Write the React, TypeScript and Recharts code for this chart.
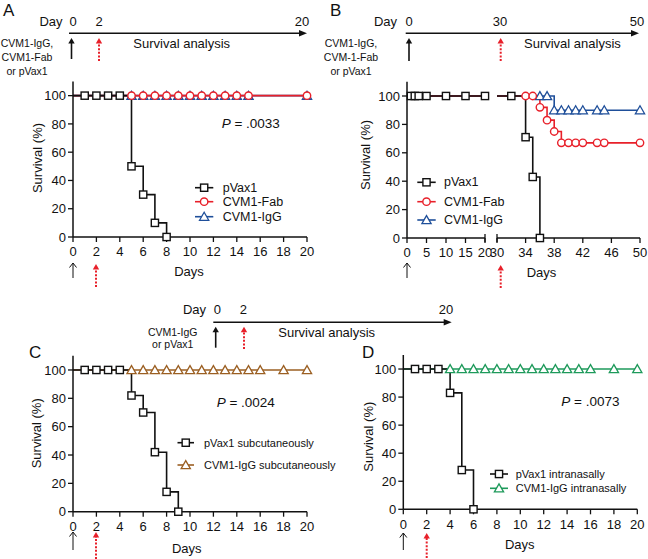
import React from 'react';
import { LineChart, Line, XAxis, YAxis } from 'recharts';

const FONT = '"Liberation Sans", Arial, Helvetica, sans-serif';
const BLACK = '#111111';
const RED = '#e8202a';
const BLUE = '#1f4f9a';
const BROWN = '#9b5f22';
const GREEN = '#1e9a5b';

// ---------- data ----------
const yTicks = [0, 20, 40, 60, 80, 100];
const dayTicks20 = [0, 2, 4, 6, 8, 10, 12, 14, 16, 18, 20];

// Panel A
const aPvaxDays = [0, 1, 2, 3, 4, 5, 6, 7, 8];
const aPvaxSurv = [100, 100, 100, 100, 100, 50, 30, 10, 0];
const aPvaxMarks = [1, 2, 3, 4, 5, 6, 7, 8];
const aFabDays = [0, 5, 6, 7, 8, 9, 10, 11, 12, 13, 14, 15, 20];
const aFabSurv = [100, 100, 100, 100, 100, 100, 100, 100, 100, 100, 100, 100, 100];
const aFabMarks = [5, 6, 7, 8, 9, 10, 11, 12, 13, 14, 15, 20];
const aIgGDays = [0, 5, 6, 7, 8, 9, 10, 11, 12, 13, 14, 15, 20];
const aIgGSurv = [100, 100, 100, 100, 100, 100, 100, 100, 100, 100, 100, 100, 100];
const aIgGMarks = [5, 6, 7, 8, 9, 10, 11, 12, 13, 14, 15, 20];

// Panel B (broken axis 0-20 | 30-50)
const bLeftTicks = [0, 5, 10, 15, 20];
const bRightTicks = [30, 34, 38, 42, 46, 50];
const bPvaxDays = [0, 1, 2, 3, 5, 10, 15, 20, 30, 32, 34, 35, 36];
const bPvaxSurv = [100, 100, 100, 100, 100, 100, 100, 100, 100, 100, 71, 43, 0];
const bPvaxMarks = [1, 2, 3, 5, 10, 15, 20, 32, 34, 35, 36];
const bFabDays = [0, 20, 30, 34, 35, 36, 37, 38, 39, 40, 41, 42, 44, 45, 50];
const bFabSurv = [100, 100, 100, 100, 100, 92, 83, 75, 67, 67, 67, 67, 67, 67, 67];
const bFabMarks = [34, 35, 36, 37, 38, 39, 40, 41, 42, 44, 45, 50];
const bIgGDays = [0, 20, 30, 36, 37, 38, 39, 40, 41, 42, 44, 45, 50];
const bIgGSurv = [100, 100, 100, 100, 100, 90, 90, 90, 90, 90, 90, 90, 90];
const bIgGMarks = [36, 37, 38, 39, 40, 41, 42, 44, 45, 50];

// Panel C
const cPvaxDays = [0, 1, 2, 3, 4, 5, 6, 7, 8, 9];
const cPvaxSurv = [100, 100, 100, 100, 100, 82, 70, 42, 14, 0];
const cPvaxMarks = [1, 2, 3, 4, 5, 6, 7, 8, 9];
const cIgGDays = [0, 5, 6, 7, 8, 9, 10, 11, 12, 13, 14, 15, 16, 18, 20];
const cIgGSurv = [100, 100, 100, 100, 100, 100, 100, 100, 100, 100, 100, 100, 100, 100, 100];
const cIgGMarks = [5, 6, 7, 8, 9, 10, 11, 12, 13, 14, 15, 16, 18, 20];

// Panel D
const dPvaxDays = [0, 1, 2, 3, 4, 5, 6];
const dPvaxSurv = [100, 100, 100, 100, 83, 28, 0];
const dPvaxMarks = [1, 2, 3, 4, 5, 6];
const dIgGDays = [0, 4, 5, 6, 7, 8, 9, 10, 11, 12, 13, 14, 15, 16, 18, 20];
const dIgGSurv = [100, 100, 100, 100, 100, 100, 100, 100, 100, 100, 100, 100, 100, 100, 100, 100];
const dIgGMarks = [4, 5, 6, 7, 8, 9, 10, 11, 12, 13, 14, 15, 16, 18, 20];

// ---------- helpers ----------
type Shape = 'square' | 'circle' | 'triangle';
type Series = { days: number[]; surv: number[]; marks: number[]; color: string; shape: Shape };

const toPoints = (days: number[], surv: number[], lo: number, hi: number) =>
  days.map((d, i) => ({ day: d, surv: surv[i] })).filter((p) => p.day >= lo && p.day <= hi);

function Marker({ shape, cx, cy, color }: { shape: Shape; cx: number; cy: number; color: string }) {
  if (shape === 'square')
    return <rect x={cx - 3.6} y={cy - 3.6} width={7.2} height={7.2} fill="#fff" stroke={color} strokeWidth={1.4} />;
  if (shape === 'circle') return <circle cx={cx} cy={cy} r={3.7} fill="#fff" stroke={color} strokeWidth={1.4} />;
  return (
    <polygon
      points={`${cx},${cy - 4.4} ${cx - 4.6},${cy + 3.6} ${cx + 4.6},${cy + 3.6}`}
      fill="#fff"
      stroke={color}
      strokeWidth={1.3}
      strokeLinejoin="miter"
    />
  );
}

const axisStyle = { stroke: BLACK, strokeWidth: 1.5 };
const tickLineStyle = { stroke: BLACK, strokeWidth: 1.3 };
const tickStyle = { fill: BLACK, fontSize: 13, fontFamily: FONT };

function Plot(props: {
  left: number;
  top: number;
  width: number;
  height: number;
  margin: { top: number; right: number; bottom: number; left: number };
  xDomain: [number, number];
  xTicks: number[];
  series: Series[];
  showY: boolean;
}) {
  const { left, top, width, height, margin, xDomain, xTicks, series, showY } = props;
  return (
    <div style={{ position: 'absolute', left, top, width, height }}>
      <LineChart width={width} height={height} margin={margin}>
        <XAxis
          type="number"
          dataKey="day"
          domain={xDomain}
          ticks={xTicks}
          interval={0}
          height={30}
          tickSize={5}
          tickMargin={5}
          axisLine={axisStyle}
          tickLine={tickLineStyle}
          tick={tickStyle}
        />
        <YAxis
          type="number"
          dataKey="surv"
          domain={[0, 110]}
          ticks={yTicks}
          interval={0}
          width={showY ? 40 : 0}
          hide={!showY}
          tickSize={5}
          tickMargin={2}
          axisLine={axisStyle}
          tickLine={tickLineStyle}
          tick={tickStyle}
        />
        {series.map((s, si) => (
          <Line
            key={si}
            data={toPoints(s.days, s.surv, xDomain[0], xDomain[1])}
            dataKey="surv"
            type="stepAfter"
            stroke={s.color}
            strokeWidth={1.6}
            activeDot={false}
            isAnimationActive={false}
            dot={(p: any) => {
              const k = `d-${si}-${p.index}`;
              if (!p.payload || s.marks.indexOf(p.payload.day) < 0 || p.cx == null) return <g key={k} />;
              return (
                <g key={k}>
                  <Marker shape={s.shape} cx={p.cx} cy={p.cy} color={s.color} />
                </g>
              );
            }}
          />
        ))}
      </LineChart>
    </div>
  );
}

function T(props: any) {
  return <text fontFamily={FONT} fill={BLACK} fontSize={13} {...props} />;
}

function UpArrow({ x, y1, y2, color, dotted, open }: { x: number; y1: number; y2: number; color: string; dotted?: boolean; open?: boolean }) {
  if (open)
    return (
      <g>
        <line x1={x} y1={y1} x2={x} y2={y2} stroke={color} strokeWidth={1} />
        <polyline points={`${x - 3.5},${y2 + 4.5} ${x},${y2} ${x + 3.5},${y2 + 4.5}`} fill="none" stroke={color} strokeWidth={1} />
      </g>
    );
  const head = 5;
  return (
    <g>
      <line
        x1={x}
        y1={y1}
        x2={x}
        y2={y2 + head}
        stroke={color}
        strokeWidth={dotted ? 2 : 1.6}
        strokeDasharray={dotted ? '2 1.6' : undefined}
      />
      <polygon points={`${x - 3.2},${y2 + head + 0.5} ${x},${y2} ${x + 3.2},${y2 + head + 0.5}`} fill={color} />
    </g>
  );
}

function TimeLine({ x1, x2, y }: { x1: number; x2: number; y: number }) {
  return (
    <g>
      <line x1={x1} y1={y} x2={x2 - 6} y2={y} stroke={BLACK} strokeWidth={1.6} />
      <polygon points={`${x2 - 8},${y - 3.2} ${x2},${y} ${x2 - 8},${y + 3.2}`} fill={BLACK} />
    </g>
  );
}

function LegendRow({ x1, x2, y, color, shape, textX, label, fs }: any) {
  return (
    <g>
      <line x1={x1} y1={y} x2={x2} y2={y} stroke={color} strokeWidth={1.6} />
      <Marker shape={shape} cx={(x1 + x2) / 2} cy={y} color={color} />
      <T x={textX} y={y} fontSize={fs} dominantBaseline="central">
        {label}
      </T>
    </g>
  );
}

function YTitle({ x, y }: { x: number; y: number }) {
  return (
    <T x={x} y={y} textAnchor="middle" dominantBaseline="central" transform={`rotate(-90 ${x} ${y})`}>
      Survival (%)
    </T>
  );
}

function PText({ x, y, v }: { x: number; y: number; v: string }) {
  return (
    <T x={x} y={y} fontSize={13.5}>
      <tspan fontStyle="italic">P</tspan>
      {` = ${v}`}
    </T>
  );
}

export default function App() {
  const aSeries: Series[] = [
    { days: aIgGDays, surv: aIgGSurv, marks: aIgGMarks, color: BLUE, shape: 'triangle' },
    { days: aFabDays, surv: aFabSurv, marks: aFabMarks, color: RED, shape: 'circle' },
    { days: aPvaxDays, surv: aPvaxSurv, marks: aPvaxMarks, color: BLACK, shape: 'square' },
  ];
  const bSeries: Series[] = [
    { days: bIgGDays, surv: bIgGSurv, marks: bIgGMarks, color: BLUE, shape: 'triangle' },
    { days: bFabDays, surv: bFabSurv, marks: bFabMarks, color: RED, shape: 'circle' },
    { days: bPvaxDays, surv: bPvaxSurv, marks: bPvaxMarks, color: BLACK, shape: 'square' },
  ];
  const cSeries: Series[] = [
    { days: cIgGDays, surv: cIgGSurv, marks: cIgGMarks, color: BROWN, shape: 'triangle' },
    { days: cPvaxDays, surv: cPvaxSurv, marks: cPvaxMarks, color: BLACK, shape: 'square' },
  ];
  const dSeries: Series[] = [
    { days: dIgGDays, surv: dIgGSurv, marks: dIgGMarks, color: GREEN, shape: 'triangle' },
    { days: dPvaxDays, surv: dPvaxSurv, marks: dPvaxMarks, color: BLACK, shape: 'square' },
  ];

  return (
    <div style={{ position: 'absolute', left: 0, top: 0, width: 648, height: 559, background: '#fff', overflow: 'hidden' }}>
      <Plot left={0} top={60} width={330} height={230} margin={{ top: 21.5, right: 23, bottom: 23, left: 33 }} xDomain={[0, 20]} xTicks={dayTicks20} series={aSeries} showY />
      <Plot left={330} top={60} width={170} height={230} margin={{ top: 21.8, right: 15, bottom: 22, left: 37 }} xDomain={[0, 20]} xTicks={bLeftTicks} series={bSeries} showY />
      <Plot left={490} top={60} width={158} height={230} margin={{ top: 21.8, right: 8, bottom: 22, left: 7 }} xDomain={[30, 50]} xTicks={bRightTicks} series={bSeries} showY={false} />
      <Plot left={0} top={335} width={330} height={230} margin={{ top: 20.8, right: 23, bottom: 23.3, left: 33 }} xDomain={[0, 20]} xTicks={dayTicks20} series={cSeries} showY />
      <Plot left={324} top={335} width={324} height={230} margin={{ top: 20, right: 10.7, bottom: 25.7, left: 39.3 }} xDomain={[0, 20]} xTicks={dayTicks20} series={dSeries} showY />

      <svg width={648} height={559} style={{ position: 'absolute', left: 0, top: 0, pointerEvents: 'none' }}>
        {/* ----- Panel A ----- */}
        <T x={3} y={16} fontSize={17}>A</T>
        <T x={62.5} y={26} textAnchor="end">Day</T>
        <T x={73} y={26} textAnchor="middle">0</T>
        <T x={99} y={26} textAnchor="middle">2</T>
        <T x={302} y={26} textAnchor="middle">20</T>
        <TimeLine x1={69} x2={307} y={33.3} />
        <T x={27} y={47} fontSize={10.5} textAnchor="middle">CVM1-IgG,</T>
        <T x={27} y={61} fontSize={10.5} textAnchor="middle">CVM1-Fab</T>
        <T x={27} y={74.5} fontSize={10.5} textAnchor="middle">or pVax1</T>
        <UpArrow x={71.5} y1={59} y2={38} color={BLACK} />
        <UpArrow x={99} y1={61} y2={38} color={RED} dotted />
        <T x={133.3} y={47.5}>Survival analysis</T>
        <YTitle x={37} y={158} />
        <T x={189} y={276} textAnchor="middle">Days</T>
        <UpArrow x={73} y1={278} y2={263} color={BLACK} open />
        <UpArrow x={96} y1={287} y2={264} color={RED} dotted />
        <PText x={221.7} y={127.5} v=".0033" />
        <LegendRow x1={195} x2={213.3} y={187.7} color={BLACK} shape="square" textX={222.7} label="pVax1" fs={12.5} />
        <LegendRow x1={195} x2={213.3} y={201.7} color={RED} shape="circle" textX={222.7} label="CVM1-Fab" fs={12.5} />
        <LegendRow x1={195} x2={213.3} y={216.7} color={BLUE} shape="triangle" textX={222.7} label="CVM1-IgG" fs={12.5} />

        {/* ----- Panel B ----- */}
        <T x={330} y={16} fontSize={17}>B</T>
        <T x={397} y={26} textAnchor="end">Day</T>
        <T x={409} y={26} textAnchor="middle">0</T>
        <T x={500} y={26} textAnchor="middle">30</T>
        <T x={637} y={26} textAnchor="middle">50</T>
        <TimeLine x1={405.7} x2={639} y={33.3} />
        <T x={351} y={47} fontSize={10.5} textAnchor="middle">CVM1-IgG,</T>
        <T x={351} y={61} fontSize={10.5} textAnchor="middle">CVM-1-Fab</T>
        <T x={351} y={74.5} fontSize={10.5} textAnchor="middle">or pVax1</T>
        <UpArrow x={409} y1={61} y2={38} color={BLACK} />
        <UpArrow x={500.7} y1={61} y2={38} color={RED} dotted />
        <T x={524} y={47.5}>Survival analysis</T>
        <YTitle x={365.7} y={155} />
        <T x={541.5} y={276.5} textAnchor="middle">Days</T>
        <UpArrow x={407} y1={278} y2={263} color={BLACK} open />
        <UpArrow x={500.7} y1={288} y2={265} color={RED} dotted />
        <line x1={485} y1={234} x2={485} y2={242} stroke={BLACK} strokeWidth={1.3} />
        <line x1={497} y1={234} x2={497} y2={242} stroke={BLACK} strokeWidth={1.3} />
        <LegendRow x1={417.3} x2={435.7} y={182.3} color={BLACK} shape="square" textX={444} label="pVax1" fs={12.5} />
        <LegendRow x1={417.3} x2={435.7} y={201.7} color={RED} shape="circle" textX={444} label="CVM1-Fab" fs={12.5} />
        <LegendRow x1={417.3} x2={435.7} y={220} color={BLUE} shape="triangle" textX={444} label="CVM1-IgG" fs={12.5} />

        {/* ----- middle timeline ----- */}
        <T x={206} y={314.3} textAnchor="end">Day</T>
        <T x={217.3} y={314.3} textAnchor="middle">0</T>
        <T x={243.3} y={314.3} textAnchor="middle">2</T>
        <T x={446} y={314.3} textAnchor="middle">20</T>
        <TimeLine x1={213.3} x2={451.7} y={322.3} />
        <T x={172.7} y={335.7} fontSize={10.5} textAnchor="middle">CVM1-IgG</T>
        <T x={172.7} y={348.3} fontSize={10.5} textAnchor="middle">or pVax1</T>
        <UpArrow x={215.7} y1={347.7} y2={326.7} color={BLACK} />
        <UpArrow x={244} y1={349} y2={326.7} color={RED} dotted />
        <T x={278.3} y={337}>Survival analysis</T>

        {/* ----- Panel C ----- */}
        <T x={29} y={358} fontSize={17}>C</T>
        <YTitle x={37} y={433.3} />
        <T x={186.7} y={553} textAnchor="middle">Days</T>
        <UpArrow x={73} y1={550} y2={532} color={BLACK} open />
        <UpArrow x={96} y1={559} y2={532} color={RED} dotted />
        <PText x={216.7} y={406.7} v=".0024" />
        <LegendRow x1={177.5} x2={194} y={442.7} color={BLACK} shape="square" textX={204} label="pVax1 subcutaneously" fs={11} />
        <LegendRow x1={177.5} x2={194} y={465} color={BROWN} shape="triangle" textX={204} label="CVM1-IgG subcutaneously" fs={11} />

        {/* ----- Panel D ----- */}
        <T x={362} y={358} fontSize={17}>D</T>
        <YTitle x={369} y={436.7} />
        <T x={519.7} y={549} textAnchor="middle">Days</T>
        <UpArrow x={403.3} y1={550} y2={533} color={BLACK} open />
        <UpArrow x={426.7} y1={558} y2={533} color={RED} dotted />
        <PText x={561.3} y={405.7} v=".0073" />
        <LegendRow x1={490} x2={508} y={474} color={BLACK} shape="square" textX={515.7} label="pVax1 intranasally" fs={11} />
        <LegendRow x1={490} x2={508} y={488.3} color={GREEN} shape="triangle" textX={515.7} label="CVM1-IgG intranasally" fs={11} />
      </svg>
    </div>
  );
}
